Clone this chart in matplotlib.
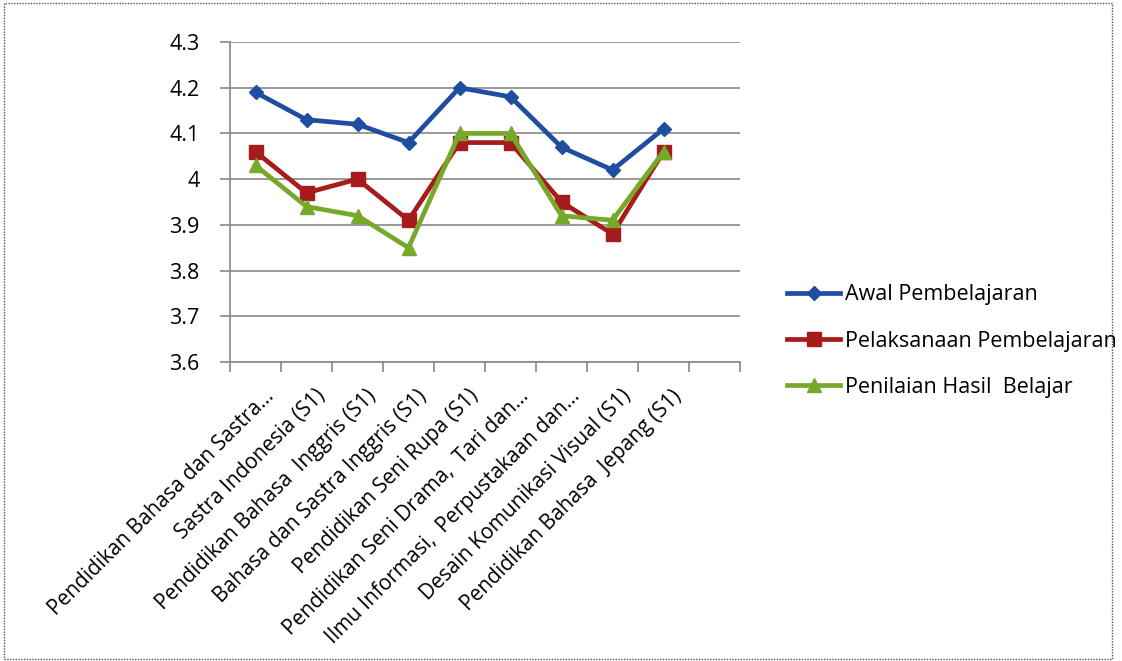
import matplotlib.pyplot as plt
from matplotlib.patches import Rectangle
from matplotlib.transforms import ScaledTranslation

categories = [
    'Pendidikan Bahasa dan Sastra...',
    'Sastra Indonesia (S1)',
    'Pendidikan Bahasa  Inggris (S1)',
    'Bahasa dan Sastra Inggris (S1)',
    'Pendidikan Seni Rupa (S1)',
    'Pendidikan Seni Drama,  Tari dan...',
    'Ilmu Informasi,  Perpustakaan dan...',
    'Desain Komunikasi Visual (S1)',
    'Pendidikan Bahasa  Jepang (S1)',
    '',
]
awal = [4.19, 4.13, 4.12, 4.08, 4.20, 4.18, 4.07, 4.02, 4.11]
pelaksanaan = [4.06, 3.97, 4.00, 3.91, 4.08, 4.08, 3.95, 3.88, 4.06]
penilaian = [4.03, 3.94, 3.92, 3.85, 4.10, 4.10, 3.92, 3.91, 4.06]
y_ticks = [3.6, 3.7, 3.8, 3.9, 4.0, 4.1, 4.2, 4.3]
y_labels = ['3.6', '3.7', '3.8', '3.9', '4', '4.1', '4.2', '4.3']

plt.rcParams['font.family'] = ['Open Sans', 'DejaVu Sans']

fig = plt.figure(figsize=(11.22, 6.61), dpi=100)
ax = fig.add_axes([230 / 1122, 1 - 362 / 661, 510 / 1122, 320 / 661])

# dotted frame round the whole chart
fig.patches.append(Rectangle((0.004, 0.003), 0.987, 0.993, transform=fig.transFigure,
                             fill=False, ls=(0, (1, 1)), lw=1, ec='#555555'))

x = list(range(len(awal)))
ax.plot(x, awal, color='#1f4ea1', lw=3.4, marker='D', ms=7, label='Awal Pembelajaran')
ax.plot(x, pelaksanaan, color='#a61c1c', lw=3.4, marker='s', ms=9.5, label='Pelaksanaan Pembelajaran')
ax.plot(x, penilaian, color='#76a82a', lw=3.4, marker='^', ms=10.5, label='Penilaian Hasil  Belajar')

ax.set_xlim(-0.5, len(categories) - 0.5)
ax.set_ylim(3.6, 4.3)
ax.set_yticks(y_ticks)
ax.set_yticklabels(y_labels, fontsize=15.5)
ax.grid(axis='y', color='#888888', lw=1.2)
ax.set_axisbelow(True)

# category labels at centres, tick marks at boundaries
ax.set_xticks(list(range(len(categories))))
ax.set_xticklabels(categories, rotation=45, ha='right', rotation_mode='anchor', fontsize=15)
ax.tick_params(axis='x', length=0, pad=17)
shift = ScaledTranslation(8 / 100, 0, fig.dpi_scale_trans)
for lbl in ax.get_xticklabels():
    lbl.set_transform(lbl.get_transform() + shift)
ax.set_xticks([i - 0.5 for i in range(len(categories) + 1)], minor=True)
ax.tick_params(axis='x', which='minor', length=7, color='#888888', width=1.2)
ax.tick_params(axis='y', length=7, color='#888888', width=1.2, pad=15)

for s in ['top', 'right']:
    ax.spines[s].set_visible(False)
ax.spines['left'].set_color('#888888')
ax.spines['bottom'].set_color('#888888')
ax.spines['left'].set_linewidth(1.2)
ax.spines['bottom'].set_linewidth(1.2)

fig.legend(loc='center left', bbox_to_anchor=(778 / 1122, 1 - 341 / 661), frameon=False,
           fontsize=15.5, handlelength=2.5, handletextpad=0.2, labelspacing=1.18,
           borderaxespad=0)

fig.savefig('out.png', dpi=100)
